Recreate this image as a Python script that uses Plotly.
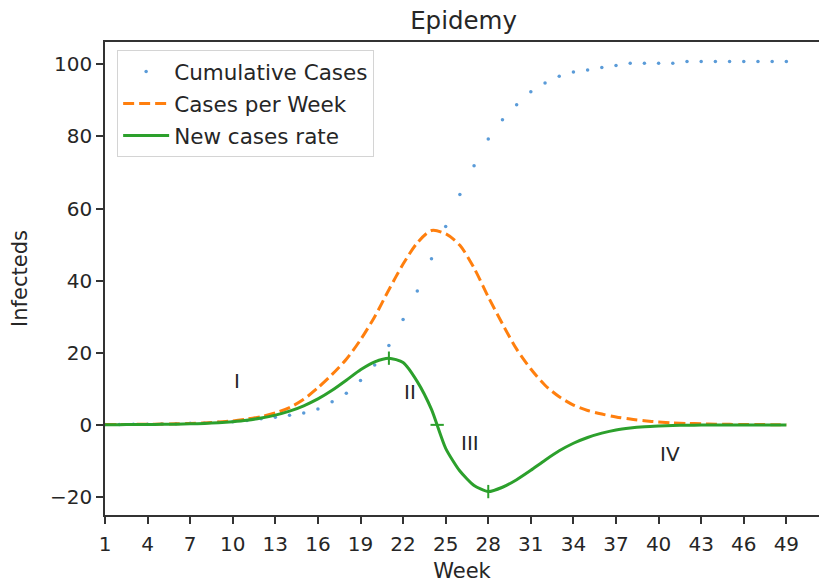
import plotly.graph_objects as go

# ---------------- data ----------------
weeks = list(range(1, 50))

cumulative_cases = [
    0.10, 0.12, 0.15, 0.20, 0.26, 0.33, 0.42, 0.55, 0.70, 0.90,
    1.2, 1.7, 2.1, 2.7, 3.3, 4.4, 6.4, 8.8, 12.3, 16.6,
    22.0, 29.2, 37.1, 46.1, 55.0, 63.9, 71.9, 79.3, 84.6, 88.8,
    92.4, 94.8, 96.7, 97.9, 98.4, 99.1, 99.7, 100.3, 100.3, 100.3,
    100.3, 100.8, 100.8, 100.8, 100.8, 100.8, 100.8, 100.8, 100.8,
]

cases_per_week = [
    0.08, 0.10, 0.13, 0.17, 0.23, 0.30, 0.40, 0.55, 0.80, 1.1,
    1.6, 2.3, 3.3, 4.8, 7.1, 10.3, 14.0, 18.2, 23.6, 30.0,
    37.5, 44.6, 50.5, 53.9, 53.0, 49.8, 43.5, 35.5, 28.0, 21.0,
    15.5, 11.0, 7.8, 5.5, 4.0, 3.0, 2.2, 1.6, 1.15, 0.80,
    0.55, 0.40, 0.30, 0.20, 0.15, 0.10, 0.08, 0.06, 0.05,
]

new_cases_rate = [
    0.05, 0.06, 0.08, 0.10, 0.14, 0.20, 0.28, 0.40, 0.60, 0.90,
    1.3, 1.9, 2.7, 3.8, 5.3, 7.2, 9.6, 12.4, 15.3, 17.5,
    18.5, 17.3, 12.0, 4.3, -6.5, -12.8, -16.8, -18.5, -17.3, -15.2,
    -12.6, -9.8, -7.2, -5.1, -3.5, -2.3, -1.4, -0.85, -0.50, -0.30,
    -0.18, -0.10, -0.06, -0.04, -0.03, -0.02, -0.01, -0.01, -0.01,
]

# turning points of the new cases rate (max, zero crossing, min)
turn_weeks = [21, 24.4, 28]
turn_values = [18.5, 0.0, -18.5]
turn_symbols = ["line-ns", "line-ew", "line-ns"]

# phase labels
phase_labels = ["I", "II", "III", "IV"]
phase_weeks = [10, 22, 26, 40]
phase_levels = [12.3, 9.0, -4.9, -8.0]

x_tick_vals = list(range(1, 50, 3))
y_tick_vals = [-20, 0, 20, 40, 60, 80, 100]

# ---------------- figure ----------------
FONT = "DejaVu Sans"
TXT = "#262626"

fig = go.Figure()

fig.add_trace(go.Scatter(
    x=weeks, y=cumulative_cases, mode="markers", name="Cumulative Cases",
    legendgroup="a",
    marker=dict(size=3.5, color="#5a9bd8", line=dict(width=0)),
))
fig.add_trace(go.Scatter(
    x=weeks, y=cases_per_week, mode="lines", name="Cases per Week",
    legendgroup="b",
    line=dict(color="#ff7f0e", width=3, dash="11px,5px", shape="spline", smoothing=0.8),
))
fig.add_trace(go.Scatter(
    x=weeks, y=new_cases_rate, mode="lines", name="New cases rate",
    legendgroup="c",
    line=dict(color="#2ca02c", width=3, shape="spline", smoothing=0.6),
))
fig.add_trace(go.Scatter(
    x=turn_weeks, y=turn_values, mode="markers", showlegend=False,
    marker=dict(symbol=turn_symbols, size=9.5, color="#2ca02c",
                line=dict(color="#2ca02c", width=2)),
))

for lab, xw, yl in zip(phase_labels, phase_weeks, phase_levels):
    fig.add_annotation(
        x=xw, y=yl, text=lab, showarrow=False, xanchor="left", yanchor="middle",
        xshift=-1, font=dict(family=FONT, size=20, color=TXT),
    )

fig.update_layout(
    width=819, height=583,
    margin=dict(l=105, r=0, t=42, b=68),
    paper_bgcolor="white", plot_bgcolor="white",
    font=dict(family=FONT, size=20, color=TXT),
    title=dict(text="Epidemy", x=0.566, xanchor="center", y=1 - 20 / 583,
               yanchor="middle", font=dict(family=FONT, size=24.5, color=TXT)),
    showlegend=True,
    legend=dict(
        x=0.017, y=0.983, xanchor="left", yanchor="top",
        bgcolor="rgba(255,255,255,0.85)", bordercolor="#d4d4d4", borderwidth=1,
        font=dict(family=FONT, size=21.5, color=TXT),
        itemwidth=46, tracegroupgap=1,
    ),
    xaxis=dict(
        range=[1, 51.3], tickmode="array", tickvals=x_tick_vals,
        ticks="outside", ticklen=7, tickwidth=1.5, tickcolor="#333",
        showline=True, linecolor="#333", linewidth=1.5, mirror=True,
        showgrid=False, zeroline=False, ticklabelstandoff=3,
        title=dict(text="Week", standoff=10, font=dict(family=FONT, size=21, color=TXT)),
        tickfont=dict(family=FONT, size=20, color=TXT),
    ),
    yaxis=dict(
        range=[-25, 106.2], tickmode="array", tickvals=y_tick_vals,
        ticks="outside", ticklen=7, tickwidth=1.5, tickcolor="#333",
        showline=True, linecolor="#333", linewidth=1.5, mirror=False,
        showgrid=False, zeroline=False,
        title=dict(text="Infecteds", standoff=17, font=dict(family=FONT, size=21, color=TXT)),
        tickfont=dict(family=FONT, size=20, color=TXT),
    ),
)

fig.write_html("out.html", config={"displayModeBar": False},
               post_script="document.body.style.margin='0px';")
